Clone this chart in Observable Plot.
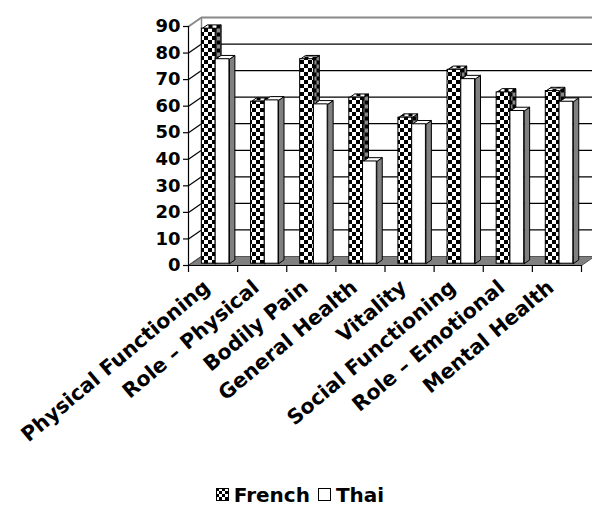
<!DOCTYPE html>
<html>
<head>
<meta charset="utf-8">
<script src="https://cdn.jsdelivr.net/npm/d3@7"></script>
<script src="https://cdn.jsdelivr.net/npm/@observablehq/plot@0.6"></script>
<style>
  html, body { margin: 0; padding: 0; background: #fff; overflow: hidden; }
  body { width: 592px; height: 509px; font-family: "DejaVu Sans", sans-serif; }
  #legend { display: flex; align-items: center; justify-content: center; gap: 8px;
            font-weight: bold; font-size: 20px; height: 29px; padding-left: 8px; }
  #legend .sw { width: 13px; height: 13px; }
  #legend .item { display: flex; align-items: center; gap: 5px; }
</style>
</head>
<body>
<svg width="0" height="0" style="position:absolute">
  <defs>
    <pattern id="checker" width="8" height="8" patternUnits="userSpaceOnUse">
      <rect width="8" height="8" fill="#fff"/>
      <rect width="4" height="4" fill="#000"/>
      <rect x="4" y="4" width="4" height="4" fill="#000"/>
    </pattern>
    <pattern id="checkerDark" width="8" height="8" patternUnits="userSpaceOnUse">
      <rect width="8" height="8" fill="#8a8a8a"/>
      <rect width="4" height="4" fill="#000"/>
      <rect x="4" y="4" width="4" height="4" fill="#000"/>
    </pattern>
    <pattern id="checkerSwatch" width="6" height="6" patternUnits="userSpaceOnUse">
      <rect width="6" height="6" fill="#fff"/>
      <rect width="3" height="3" fill="#000"/>
      <rect x="3" y="3" width="3" height="3" fill="#000"/>
    </pattern>
  </defs>
</svg>
<div id="chart"></div>
<div id="legend"></div>
<script>
// SF-36 domain scores, French vs Thai samples
const categories = ["Physical Functioning", "Role – Physical", "Bodily Pain", "General Health",
                    "Vitality", "Social Functioning", "Role – Emotional", "Mental Health"];
const french = [88.5, 61, 77, 62.5, 55, 73, 64.5, 65];
const thai = [77, 61.5, 60, 38.5, 52.5, 69.5, 57.5, 61];
const yTicks = [0, 10, 20, 30, 40, 50, 60, 70, 80, 90];
const seriesNames = ["French", "Thai"];

// frame geometry
const W = 592, H = 480, ML = 188, MR = 11, MT = 26, MB = 215;
const kx = (W - ML - MR) / categories.length;   // px per category
const ky = (H - MT - MB) / 90;                 // px per score unit
// depth vector of the 3-D box (front plane -> back wall), in data units
const wall = {dx: 13 / kx, dy: 9 / ky};
// bars sit slightly behind the front plane and have their own depth
const front = {dx: 0.2 * wall.dx, dy: 0.2 * wall.dy};
const depth = {dx: 0.42 * wall.dx, dy: 0.42 * wall.dy};
const bw = 0.28, gap = 0.5 - bw;

// bar geometry built from the values
function bars(values, s) {
  return values.map((v, i) => {
    const x1 = i + gap + s * bw + front.dx;
    return {i, v, x1, x2: x1 + bw, y1: front.dy, y2: v + front.dy};
  });
}
function polys(bs, kind) {
  const rows = [];
  for (const b of bs) {
    let pts;
    if (kind === "side") {
      pts = [[b.x2, b.y1], [b.x2 + depth.dx, b.y1 + depth.dy], [b.x2 + depth.dx, b.y2 + depth.dy], [b.x2, b.y2]];
    } else {
      pts = [[b.x1, b.y2], [b.x2, b.y2], [b.x2 + depth.dx, b.y2 + depth.dy], [b.x1 + depth.dx, b.y2 + depth.dy]];
    }
    pts.push(pts[0]);
    pts.forEach(([x, y]) => rows.push({id: b.i, x, y}));
  }
  return rows;
}
const fr = bars(french, 0), th = bars(thai, 1);

const n = categories.length;
const boundaries = d3.range(n + 1);
const floor = [[0, 0], [n, 0], [n + wall.dx, wall.dy], [wall.dx, wall.dy], [0, 0]].map(([x, y]) => ({x, y}));

const barMarks = (bs, frontFill, sideFill, topFill) => [
  Plot.line(polys(bs, "side"), {x: "x", y: "y", z: "id", fill: sideFill, stroke: "#000", strokeWidth: 1, curve: "linear"}),
  Plot.line(polys(bs, "top"), {x: "x", y: "y", z: "id", fill: topFill, stroke: "#000", strokeWidth: 1, curve: "linear"}),
  Plot.rect(bs, {x1: "x1", x2: "x2", y1: "y1", y2: "y2", fill: frontFill, stroke: "#000", strokeWidth: 1})
];

const chart = Plot.plot({
  width: W, height: H,
  marginLeft: ML, marginRight: MR, marginTop: MT, marginBottom: MB,
  x: {domain: [0, n], axis: null},
  y: {domain: [0, 90], axis: null},
  style: {fontFamily: "DejaVu Sans, sans-serif", fontSize: "18px", fontWeight: "bold", color: "#000", overflow: "visible"},
  marks: [
    // back wall gridlines
    Plot.ruleY(yTicks.slice(0, -1), {x1: wall.dx, x2: n + wall.dx, y: d => d + wall.dy, stroke: "#000", strokeWidth: 1.2, strokeOpacity: 1}),
    // side wall gridlines
    Plot.link(yTicks.slice(0, -1), {x1: 0, y1: d => d, x2: wall.dx, y2: d => d + wall.dy, stroke: "#000", strokeWidth: 1.2}),
    // wall borders
    Plot.link([90], {x1: 0, y1: 90, x2: wall.dx, y2: 90 + wall.dy, stroke: "#888", strokeWidth: 2}),
    Plot.ruleY([90], {x1: wall.dx, x2: n + wall.dx, y: 90 + wall.dy, stroke: "#888", strokeWidth: 2}),
    Plot.ruleX([wall.dx], {y1: wall.dy, y2: 90 + wall.dy, stroke: "#888", strokeWidth: 1.5}),
    // floor
    Plot.line(floor, {x: "x", y: "y", fill: "#808080", stroke: "#555", strokeWidth: 1, curve: "linear"}),
    // bars
    ...barMarks(fr, "url(#checker)", "url(#checkerDark)", "url(#checker)"),
    ...barMarks(th, "#fff", "#808080", "#fff"),
    // axes
    Plot.ruleX([0], {y1: 0, y2: 90, stroke: "#000", strokeWidth: 1.2}),
    Plot.ruleY([0], {x1: 0, x2: n, stroke: "#000", strokeWidth: 1.2}),
    Plot.ruleX(boundaries, {x: d => d, y1: 0, y2: -7 / ky, stroke: "#000", strokeWidth: 1.2}),
    Plot.axisY({ticks: yTicks, tickSize: 5, tickPadding: 3, stroke: "#000", strokeWidth: 1.2, fill: "#000"}),
    Plot.text(categories, {x: (d, i) => i + 0.5, y: 0, text: d => d, rotate: -40, textAnchor: "end",
                           dx: -6, dy: 19, fill: "#000", fontSize: 20.5, fontWeight: "bold"})
  ]
});
document.getElementById("chart").append(chart);

// legend
const legend = document.getElementById("legend");
const swatchFill = ["url(#checkerSwatch)", "#fff"];
seriesNames.forEach((name, k) => {
  const item = document.createElement("div");
  item.className = "item";
  item.innerHTML = `<svg class="sw" viewBox="0 0 13 13"><rect x="0.5" y="0.5" width="12" height="12" fill="${swatchFill[k]}" stroke="#000"/></svg><span>${name}</span>`;
  legend.append(item);
});
</script>
</body>
</html>
